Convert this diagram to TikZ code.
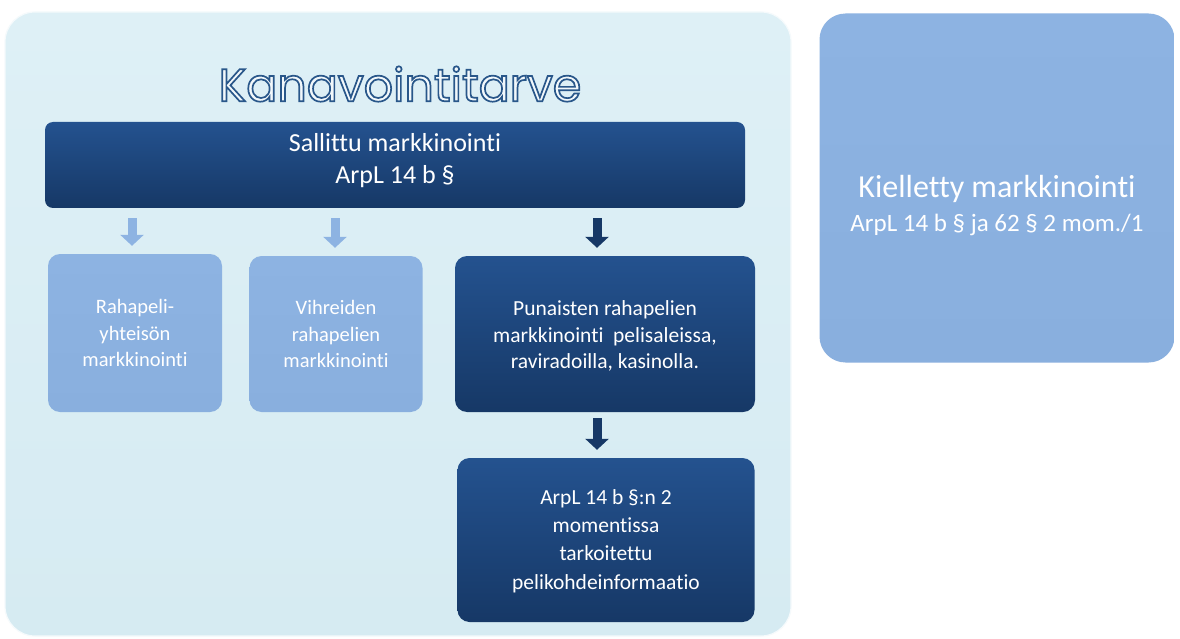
\documentclass[tikz,border=0pt]{standalone}
\usepackage{fontspec}
\setmainfont{Carlito}[Ligatures=CommonOff]
\newfontfamily\titlefont{Poppins}
\usetikzlibrary{arrows.meta}
\definecolor{bgpanel}{HTML}{D6EBF2}
\definecolor{bgpanelb}{HTML}{DEF0F6}
\definecolor{navytop}{HTML}{24528F}
\definecolor{navybot}{HTML}{163866}
\definecolor{lightbox}{HTML}{8DB3E2}
\definecolor{lightboxb}{HTML}{89AFDE}
\definecolor{titlefill}{HTML}{F2F8FB}
\newcommand{\outlinetext}[1]{{\color{titlefill}\special{pdf:literal direct 2 Tr 1.7 w 0.16 0.34 0.54 RG}#1\special{pdf:literal direct 0 Tr}}}
\tikzset{
  x=1pt, y=-1pt,
  panel/.style={rounded corners=30pt, top color=bgpanelb, bottom color=bgpanel, draw=white!75!bgpanel, line width=1.2pt},
  darkbox/.style={rounded corners=12pt, top color=navytop, bottom color=navybot, draw=none, text=white, align=center, inner sep=0pt},
  lightbox/.style={rounded corners=12pt, top color=lightbox, bottom color=lightboxb, draw=none, text=white, align=center, inner sep=0pt},
  boxtext/.style={font=\fontsize{20.5}{26.5}\selectfont},
  label/.style={text=white, align=center, inner sep=0pt},
  lightarrow/.style={draw=lightbox, line width=9pt, -{Triangle[width=23pt,length=11pt]}, shorten >=8pt},
  darkarrow/.style={draw=navybot, line width=9pt, -{Triangle[width=23pt,length=11pt]}, shorten >=8pt},
}
\begin{document}
\begin{tikzpicture}
\useasboundingbox (0,0) rectangle (1180,639);
\fill[white] (0,0) rectangle (1180,639);
% big panel
\node[panel, minimum width=786pt, minimum height=624pt] (panel) at (398,324) {};
% title
\node (title) at (400,84) {\titlefont\fontsize{46}{50}\selectfont\outlinetext{Kanavointitarve}};
% header
\node[darkbox, minimum width=700pt, minimum height=86pt, rounded corners=8pt] (hdr) at (395,165) {};
\node[label, font=\fontsize{26}{32}\selectfont] (hdrt) at (395,161)
  {Sallittu markkinointi\\ArpL 14 b §};
% boxes
\node[lightbox, boxtext, minimum width=174pt, minimum height=158pt] (b1) at (135,333)
  {Rahapeli-\\yhteisön\\markkinointi};
\node[lightbox, boxtext, minimum width=173pt, minimum height=156pt] (b2) at (336,334)
  {Vihreiden\\rahapelien\\markkinointi};
\node[darkbox, minimum width=300pt, minimum height=156pt] (b3) at (605,334) {};
\node[label, font=\fontsize{21.5}{26.5}\selectfont] (b3t) at (605,336)
  {Punaisten rahapelien\\markkinointi\ \ pelisaleissa,\\raviradoilla,\ kasinolla.};
\node[darkbox, minimum width=297pt, minimum height=164pt] (b4) at (606,540) {};
\node[label, font=\fontsize{21.5}{28.3}\selectfont] (b4t) at (606,541)
  {ArpL 14 b §:n 2\\momentissa\\tarkoitettu\\pelikohdeinformaatio};
% right box
\node[lightbox, rounded corners=26pt, minimum width=355pt, minimum height=349pt] (kb) at (997,188) {};
\node[label, font=\fontsize{32}{34}\selectfont] (kbt) at (997,206)
  {Kielletty markkinointi\\{\fontsize{25}{34}\selectfont ArpL 14 b § ja 62 § 2 mom./1}};
% arrows
\coordinate (a1) at (132,218);
\coordinate (a2) at (335,218);
\coordinate (a3) at (597,218);
\coordinate (a4) at (597,418);
\draw[lightarrow] (a1) -- (a1 |- b1.north);
\draw[lightarrow] (a2) -- (a2 |- b2.north);
\draw[darkarrow] (a3) -- (a3 |- b3.north);
\draw[darkarrow] (a4) -- (a4 |- b4.north);
\end{tikzpicture}
\end{document}
